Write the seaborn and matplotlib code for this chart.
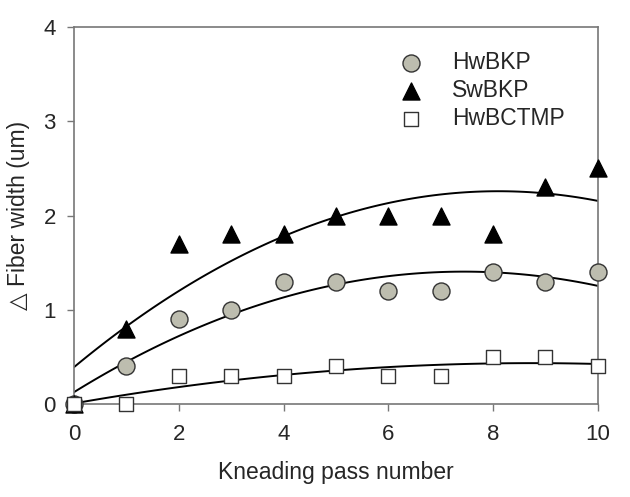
import matplotlib

matplotlib.use("Agg")

import matplotlib.pyplot as plt
import pandas as pd
import seaborn as sns

passes = [0, 1, 2, 3, 4, 5, 6, 7, 8, 9, 10]
hwbkp = [0.0, 0.4, 0.9, 1.0, 1.3, 1.3, 1.2, 1.2, 1.4, 1.3, 1.4]
swbkp = [0.0, 0.8, 1.7, 1.8, 1.8, 2.0, 2.0, 2.0, 1.8, 2.3, 2.5]
hwbctmp = [0.0, 0.0, 0.3, 0.3, 0.3, 0.4, 0.3, 0.3, 0.5, 0.5, 0.4]

x_ticks = [0, 2, 4, 6, 8, 10]
y_ticks = [0, 1, 2, 3, 4]

series = [
    ("HwBKP", hwbkp, "o", "#bdbdaf", "#333333", 150),
    ("SwBKP", swbkp, "^", "black", "black", 150),
    ("HwBCTMP", hwbctmp, "s", "white", "#333333", 110),
]

sns.set_theme(style="ticks")
plt.rcParams["font.family"] = ["Liberation Sans", "DejaVu Sans"]

fig = plt.figure(figsize=(6.3, 4.97), dpi=100)
ax = fig.add_axes([0.1175, 0.187, 0.8315, 0.7587])

for name, values, marker, face, edge, size in series:
    df = pd.DataFrame({"pass": passes, "width": values})
    # quadratic trend line through each series
    sns.regplot(
        data=df, x="pass", y="width", order=2, ci=None, scatter=False,
        truncate=True, ax=ax, line_kws={"color": "black", "linewidth": 1.4},
    )
    sns.scatterplot(
        data=df, x="pass", y="width", marker=marker, s=size, color=face,
        edgecolor=edge, linewidth=1.0, ax=ax, label=name, clip_on=False, zorder=5,
    )

ax.set_xlim(0, 10)
ax.set_ylim(0, 4)
ax.set_xticks(x_ticks)
ax.set_yticks(y_ticks)
ax.set_xlabel("Kneading pass number", fontsize=16.5, labelpad=12)
ax.set_ylabel("\u25b3 Fiber width (um)", fontsize=16.5, labelpad=10)
ax.tick_params(labelsize=16, length=5, width=1, color="#777777", direction="out")
ax.tick_params(axis="x", pad=9)
ax.tick_params(axis="y", pad=8)
for spine in ax.spines.values():
    spine.set_visible(True)
    spine.set_color("#777777")
    spine.set_linewidth(1.2)

ax.legend(
    loc="upper left", bbox_to_anchor=(0.59, 0.96), frameon=False, fontsize=16.5,
    handlelength=1.6, handletextpad=1.0, labelspacing=0.22, borderaxespad=0,
)

fig.savefig("out.png", dpi=100)
